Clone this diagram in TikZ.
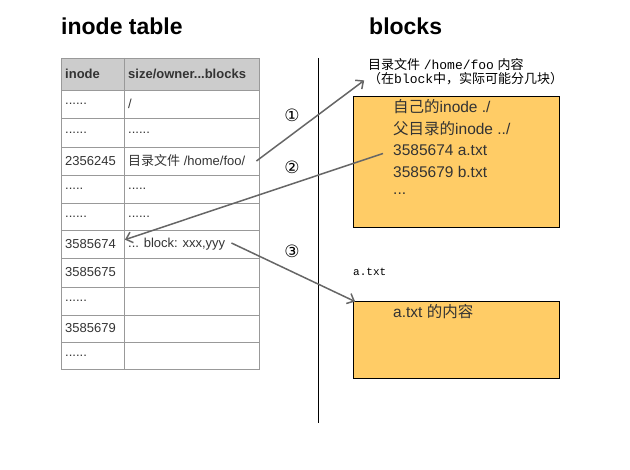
\documentclass[tikz,border=0pt]{standalone}
\usepackage{fontspec}
\setmainfont{Liberation Sans}
\setmonofont{Liberation Mono}
\newfontfamily\cjk{Noto Sans CJK SC}
\newfontfamily\circfont{DejaVu Sans}
\usetikzlibrary{arrows.meta}
\definecolor{headfill}{HTML}{CCCCCC}
\definecolor{gridgray}{HTML}{999999}
\definecolor{boxfill}{HTML}{FFCC66}
\definecolor{linkgray}{HTML}{666666}
\definecolor{celltext}{HTML}{333333}
\begin{document}
\begin{tikzpicture}[x=1pt,y=-1pt]
      \tikzstyle{title}=[anchor=base west,inner sep=0pt,font=\bfseries\fontsize{23}{26}\selectfont]
      \tikzstyle{gridline}=[draw=gridgray,line width=0.8pt]
      \tikzstyle{cell}=[anchor=west,inner sep=3pt,text=celltext,font=\fontsize{13}{15}\selectfont]
      \tikzstyle{head}=[cell,font=\bfseries\fontsize{13}{15}\selectfont]
      \tikzstyle{blockbox}=[draw=black,fill=boxfill,line width=0.8pt,anchor=north west,minimum width=206pt,inner sep=0pt]
      \tikzstyle{boxtext}=[anchor=west,inner sep=0pt,text=celltext,font=\fontsize{15.5}{18}\selectfont]
      \tikzstyle{stepmark}=[font=\circfont\fontsize{17}{19}\selectfont,inner sep=0pt]
      \tikzstyle{link}=[draw=linkgray,line width=1.5pt,shorten >=1pt,-{Straight Barb[length=6pt,width=11pt]}]

      \useasboundingbox (0,0) rectangle (630,470);

      \node[title] (ttable) at (61,35) {inode table};
      \node[title] (tblocks) at (369,35) {blocks};

      % inode table
      \fill[headfill] (61,58) rectangle (259,90);
      \draw[gridline] (61,58) rectangle (259,369);
      \draw[gridline] (124,58) -- (124,369);
      \foreach \y in {90,118,147,175,203,230,258,287,315,342}
        \draw[gridline] (61,\y) -- (259,\y);

      \node[head] (hino) at (62,74) {inode};
      \node[head] (hinf) at (125,74) {size/owner...blocks};

      \node[cell] (ino1) at (62,104) {......};
      \node[cell] (inf1) at (125,104) {/};
      \node[cell] (ino2) at (62,132.5) {......};
      \node[cell] (inf2) at (125,132.5) {......};
      \node[cell] (ino3) at (62,161) {2356245};
      \node[cell] (inf3) at (125,161) {{\cjk 目录文件} /home/foo/};
      \node[cell] (ino4) at (62,189) {.....};
      \node[cell] (inf4) at (125,189) {.....};
      \node[cell] (ino5) at (62,216.5) {......};
      \node[cell] (inf5) at (125,216.5) {......};
      \node[cell] (ino6) at (62,244) {3585674};
      \node[cell] (inf6) at (125,244) {... block: xxx,yyy};
      \node[cell] (ino7) at (62,272.5) {3585675};
      \node[cell] (ino8) at (62,301) {......};
      \node[cell] (ino9) at (62,328.5) {3585679};
      \node[cell] (ino10) at (62,355.5) {......};

      % divider
      \draw[line width=1pt] (318,58) -- (318,423);

      % blocks
      \node[anchor=north west,inner sep=0pt,align=left,font=\fontsize{13}{14}\selectfont] (dirnote) at (368,58)
        {{\cjk 目录文件} \texttt{/home/foo} {\cjk 内容}\\{\cjk （在}\texttt{block}{\cjk 中，实际可能分几块）}};

      \node[blockbox,minimum height=131pt] (blk1) at (353,96) {};
      \node[boxtext] (bl1) at (393,107) {{\cjk 自己的}inode ./};
      \node[boxtext] (bl2) at (393,129) {{\cjk 父目录的}inode ../};
      \node[boxtext] (bl3) at (393,150.5) {3585674 a.txt};
      \node[boxtext] (bl4) at (393,172) {3585679 b.txt};
      \node[boxtext] (bl5) at (393,194) {...};

      \node[anchor=west,inner sep=0pt,font=\ttfamily\fontsize{11}{13}\selectfont] (atxt) at (353,272) {a.txt};
      \node[blockbox,minimum height=77pt] (blk2) at (353,301) {};
      \node[boxtext] (bla) at (393,312) {a.txt {\cjk 的内容}};

      % steps
      \node[stepmark] (s1) at (292,115) {①};
      \node[stepmark] (s2) at (292,167) {②};
      \node[stepmark] (s3) at (292,251) {③};

      \draw[link] ([xshift=8pt]inf3.east) -- ([xshift=-3pt,yshift=5pt]dirnote.south west);
      \draw[link] ([xshift=-10pt,yshift=-3pt]bl3.west) -- ([xshift=-1pt,yshift=4pt]inf6.west);
      \draw[link] ([xshift=3pt,yshift=1pt]inf6.east) -- ([xshift=3pt,yshift=-1pt]blk2.north west);
    \end{tikzpicture}
\end{document}
